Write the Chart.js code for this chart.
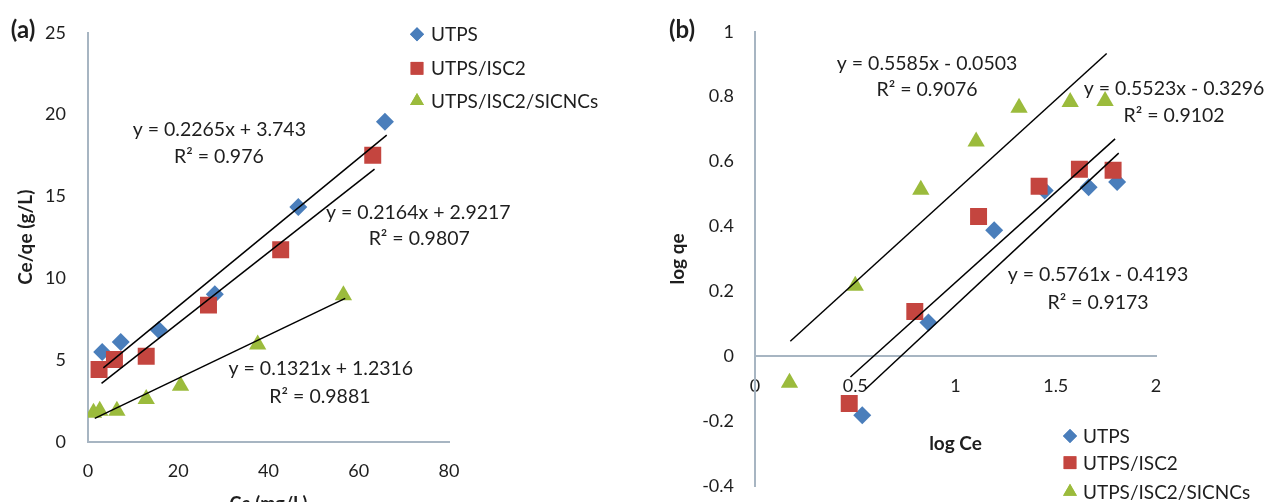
<!DOCTYPE html>
<html>
<head>
<meta charset="utf-8">
<script src="https://cdn.jsdelivr.net/npm/chart.js@4.4.1/dist/chart.umd.min.js"></script>
<style>
  html, body { margin: 0; padding: 0; background: #ffffff; width: 1267px; height: 502px; overflow: hidden; }
  #wa { position: absolute; left: 0; top: 0; }
  #wb { position: absolute; left: 620px; top: 0; }
  canvas { display: block; }
</style>
</head>
<body>
<div id="wa"><canvas id="ca" width="620" height="530"></canvas></div>
<div id="wb"><canvas id="cb" width="647" height="586"></canvas></div>
<script>
// ---------------- data ----------------
const seriesNames = ['UTPS', 'UTPS/ISC2', 'UTPS/ISC2/SICNCs'];

// Panel (a): Ce/qe vs Ce
const ceUTPS   = [3.15, 7.26, 15.7, 28.1, 46.6, 65.8];
const ceqeUTPS = [5.48, 6.09, 6.83, 9.01, 14.35, 19.56];
const ceISC2   = [2.45, 5.86, 12.9, 26.7, 42.7, 63.1];
const ceqeISC2 = [4.42, 5.02, 5.22, 8.35, 11.73, 17.52];
const ceSIC    = [1.22, 2.6, 6.4, 12.9, 20.5, 37.6, 56.6];
const ceqeSIC  = [1.77, 1.89, 1.89, 2.61, 3.42, 5.94, 8.96];
const trendAUTPSx = [3.4, 66.2],  trendAUTPSy = [4.51, 18.74];
const trendAISC2x = [3.0, 63.5],  trendAISC2y = [3.57, 16.66];
const trendASICx  = [1.5, 57.0],  trendASICy  = [1.43, 8.76];
const eqA = ['y = 0.2265x + 3.743', 'y = 0.2164x + 2.9217', 'y = 0.1321x + 1.2316'];
const r2A = ['R² = 0.976', 'R² = 0.9807', 'R² = 0.9881'];
const xTicksA = ['0', '20', '40', '60', '80'];
const yTicksA = ['0', '5', '10', '15', '20', '25'];

// Panel (b): log qe vs log Ce
const logCeUTPS  = [0.535, 0.865, 1.193, 1.445, 1.664, 1.806];
const logqeUTPS  = [-0.182, 0.104, 0.388, 0.511, 0.521, 0.537];
const logCeISC2  = [0.47, 0.797, 1.115, 1.417, 1.618, 1.786];
const logqeISC2  = [-0.146, 0.138, 0.431, 0.524, 0.576, 0.573];
const logCeSIC   = [0.172, 0.5, 0.827, 1.103, 1.317, 1.572, 1.746];
const logqeSIC   = [-0.082, 0.217, 0.513, 0.662, 0.766, 0.784, 0.787];
const trendBUTPSx = [0.552, 1.814], trendBUTPSy = [-0.101, 0.626];
const trendBISC2x = [0.476, 1.796], trendBISC2y = [-0.064, 0.670];
const trendBSICx  = [0.176, 1.754], trendBSICy  = [0.046, 0.933];
const eqB = ['y = 0.5761x - 0.4193', 'y = 0.5523x - 0.3296', 'y = 0.5585x - 0.0503'];
const r2B = ['R² = 0.9173', 'R² = 0.9102', 'R² = 0.9076'];
const xTicksB = ['0', '0.5', '1', '1.5', '2'];
const yTicksB = ['-0.4', '-0.2', '0', '0.2', '0.4', '0.6', '0.8', '1'];

// ---------------- styling ----------------
const FONT = 'Lato';
const TEXT = '#1e1e1e';
const AXIS = '#a7b5c2';
const COLORS = ['#4a7ebb', '#c4453f', '#9bbb3c'];
const STYLES = ['rectRot', 'rect', 'triangle'];
const RADII = [9, 12, 10];

Chart.defaults.font.family = FONT;
Chart.defaults.color = TEXT;

function pts(xs, ys) { return xs.map((x, i) => ({ x: x, y: ys[i] })); }

function markerSet(idx, xs, ys) {
  return {
    label: seriesNames[idx], data: pts(xs, ys), order: 3 - idx,
    pointStyle: STYLES[idx], pointRadius: RADII[idx],
    backgroundColor: COLORS[idx], borderColor: COLORS[idx], borderWidth: 0,
    showLine: false
  };
}
function trendSet(xs, ys) {
  return {
    label: '', data: pts(xs, ys), order: 0, showLine: true,
    borderColor: '#000000', borderWidth: 1.5, pointRadius: 0, fill: false
  };
}

function drawMarker(ctx, idx, x, y, r) {
  ctx.fillStyle = COLORS[idx];
  if (Chart.helpers && Chart.helpers.drawPoint) {
    Chart.helpers.drawPoint(ctx, { pointStyle: STYLES[idx], radius: r[idx], rotation: 0, borderWidth: 0 }, x, y);
    ctx.fill();
  }
}

function overlay(cfg) {
  return {
    id: 'overlay',
    afterDraw(chart) {
      const ctx = chart.ctx, sx = chart.scales.x, sy = chart.scales.y;
      ctx.save();
      ctx.fillStyle = TEXT;
      ctx.textAlign = 'center';
      ctx.textBaseline = 'middle';
      ctx.font = 'bold 24px ' + FONT;
      ctx.fillText(cfg.panel, cfg.panelX, cfg.panelY);
      ctx.font = '19.5px ' + FONT;
      cfg.labels.forEach(l => {
        ctx.fillStyle = TEXT;
        ctx.fillText(l.text, sx.getPixelForValue(l.x), sy.getPixelForValue(l.y));
      });
      // legend
      ctx.textAlign = 'left';
      ctx.font = '19px ' + FONT;
      seriesNames.forEach((name, i) => {
        const y = cfg.legendY[i];
        drawMarker(ctx, i, cfg.legendMarkerX, y, [7, 9, 8]);
        ctx.fillStyle = TEXT;
        ctx.fillText(name, cfg.legendTextX, y + 1);
      });
      ctx.restore();
    }
  };
}

function tickCb(arr) { return (v, i) => arr[i]; }

// ---------------- chart (a) ----------------
new Chart(document.getElementById('ca'), {
  type: 'scatter',
  data: {
    datasets: [
      trendSet(trendAUTPSx, trendAUTPSy),
      trendSet(trendAISC2x, trendAISC2y),
      trendSet(trendASICx, trendASICy),
      markerSet(0, ceUTPS, ceqeUTPS),
      markerSet(1, ceISC2, ceqeISC2),
      markerSet(2, ceSIC, ceqeSIC)
    ]
  },
  options: {
    responsive: false, animation: false, events: [],
    layout: { padding: { left: 0, top: 28.5, right: 171, bottom: 0 } },
    plugins: { legend: { display: false }, tooltip: { enabled: false } },
    scales: {
      x: {
        type: 'linear', position: 'bottom', min: 0, max: 80,
        grid: { display: false, drawTicks: false },
        border: { color: AXIS, width: 2 },
        ticks: { stepSize: 20, padding: 19, font: { size: 18 }, color: TEXT, callback: tickCb(xTicksA) },
        title: { display: true, text: 'Ce (mg/L)', color: TEXT, font: { size: 18, weight: 'bold' }, padding: { top: 0, bottom: 15 } },
        afterFit: s => { s.height = 88.3; }
      },
      y: {
        type: 'linear', position: 'left', min: 0, max: 25,
        grid: { display: false, drawTicks: false },
        border: { color: AXIS, width: 2 },
        ticks: { stepSize: 5, padding: 22, font: { size: 18 }, color: TEXT, callback: tickCb(yTicksA) },
        title: { display: true, text: 'Ce/qe (g/L)', color: TEXT, font: { size: 19, weight: 'bold' }, padding: { top: 14, bottom: 0 } },
        afterFit: s => { s.width = 88; }
      }
    }
  },
  plugins: [overlay({
    panel: '(a)', panelX: 23, panelY: 30,
    labels: [
      { text: eqA[0], x: 29.1, y: 19.07 }, { text: r2A[0], x: 29.0, y: 17.45 },
      { text: eqA[1], x: 73.2, y: 13.98 }, { text: r2A[1], x: 73.4, y: 12.39 },
      { text: eqA[2], x: 51.6, y: 4.46 },  { text: r2A[2], x: 51.4, y: 2.78 }
    ],
    legendMarkerX: 417, legendTextX: 431, legendY: [34.3, 68.3, 101]
  })]
});

// ---------------- chart (b) ----------------
new Chart(document.getElementById('cb'), {
  type: 'scatter',
  data: {
    datasets: [
      trendSet(trendBUTPSx, trendBUTPSy),
      trendSet(trendBISC2x, trendBISC2y),
      trendSet(trendBSICx, trendBSICy),
      markerSet(0, logCeUTPS, logqeUTPS),
      markerSet(1, logCeISC2, logqeISC2),
      markerSet(2, logCeSIC, logqeSIC)
    ]
  },
  options: {
    responsive: false, animation: false, events: [],
    layout: { padding: { left: 0, top: 29, right: 111, bottom: 100 } },
    plugins: { legend: { display: false }, tooltip: { enabled: false } },
    scales: {
      x: {
        type: 'linear', position: { y: 0 }, min: 0, max: 2,
        grid: { display: false, drawTicks: false },
        border: { color: AXIS, width: 2 },
        ticks: { stepSize: 0.5, padding: 19, font: { size: 18 }, color: TEXT, callback: tickCb(xTicksB) },
        title: { display: true, text: 'log Ce', color: TEXT, font: { size: 19, weight: 'bold' }, padding: { top: 0, bottom: 1 } },
        afterFit: s => { s.height = 100; }
      },
      y: {
        type: 'linear', position: 'left', min: -0.4, max: 1,
        grid: { display: false, drawTicks: false },
        border: { color: AXIS, width: 2 },
        ticks: { stepSize: 0.2, padding: 21, font: { size: 18 }, color: TEXT, callback: tickCb(yTicksB) },
        title: { display: true, text: 'log qe', color: TEXT, font: { size: 19, weight: 'bold' }, padding: { top: 46, bottom: 0 } },
        afterFit: s => { s.width = 135; }
      }
    }
  },
  plugins: [overlay({
    panel: '(b)', panelX: 62, panelY: 30,
    labels: [
      { text: eqB[2], x: 0.858, y: 0.902 }, { text: r2B[2], x: 0.858, y: 0.820 },
      { text: eqB[1], x: 2.09, y: 0.824 },  { text: r2B[1], x: 2.09, y: 0.742 },
      { text: eqB[0], x: 1.711, y: 0.251 }, { text: r2B[0], x: 1.711, y: 0.166 }
    ],
    legendMarkerX: 450, legendTextX: 463, legendY: [436, 462.7, 491.7]
  })]
});
</script>
</body>
</html>
